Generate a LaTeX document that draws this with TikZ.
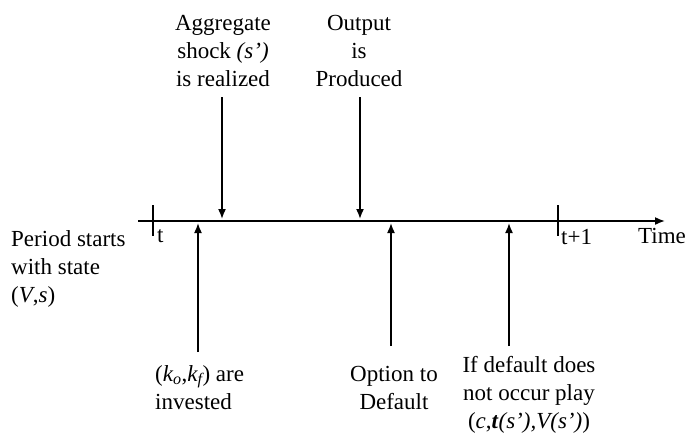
\documentclass[tikz,border=0pt]{standalone}
\usepackage{fontspec}
\setmainfont{Liberation Serif}
\usetikzlibrary{arrows.meta}
\begin{document}
\begin{tikzpicture}[x=1pt,y=-1pt,
  lbl/.style={font=\fontsize{23}{28}\selectfont, inner sep=0pt, align=center},
  lbll/.style={font=\fontsize{23}{28}\selectfont, inner sep=0pt, align=left},
  ar/.style={line width=1.6pt, -{Latex[length=10pt,width=8pt]}},
  tk/.style={line width=1.6pt}]
\useasboundingbox (0,0) rectangle (690,437);
% axis
\coordinate (a0) at (138,221);
\coordinate (a1) at (665,221);
\draw[ar] (a0) -- (a1);
\coordinate (t0a) at (153,205); \coordinate (t0b) at (153,236);
\draw[tk] (t0a) -- (t0b);
\coordinate (t1a) at (558,205); \coordinate (t1b) at (558,236);
\draw[tk] (t1a) -- (t1b);
\node[lbl, anchor=base west] (tl) at (157,242) {t};
\node[lbl, anchor=base west] (t1l) at (561,244) {t+1};
\node[lbl, anchor=base west] (time) at (638,243) {Time};
% left text
\node[lbll, anchor=north west] (start) at (11,230) {Period starts\\with state\\(\textit{V},\textit{s})};
% top labels
\node[lbl, anchor=north] (agg) at (223,15) {Aggregate\\shock \textit{(s')}\\is realized};
\node[lbl, anchor=north] (out) at (359,15) {Output\\is\\Produced};
\coordinate (aggS) at (222,97); \coordinate (aggE) at (222,219);
\coordinate (outS) at (360,97); \coordinate (outE) at (360,219);
\draw[ar] (aggS) -- (aggE);
\draw[ar] (outS) -- (outE);
% bottom labels
\node[lbll, anchor=north west] (inv) at (155,365) {(\textit{k\textsubscript{o}},\textit{k\textsubscript{f}}) are\\invested};
\node[lbl, anchor=north] (opt) at (394,366) {Option to\\Default};
\node[lbl, anchor=north] (ifd) at (529,356) {If default does\\not occur play\\(\textit{c},\textbf{\textit{t}}\textit{(s'),V(s')})};
\coordinate (invS) at (198,352); \coordinate (invE) at (198,223);
\coordinate (optS) at (391,346); \coordinate (optE) at (391,223);
\coordinate (ifdS) at (509,346); \coordinate (ifdE) at (509,223);
\draw[ar] (invS) -- (invE);
\draw[ar] (optS) -- (optE);
\draw[ar] (ifdS) -- (ifdE);
\end{tikzpicture}
\end{document}
